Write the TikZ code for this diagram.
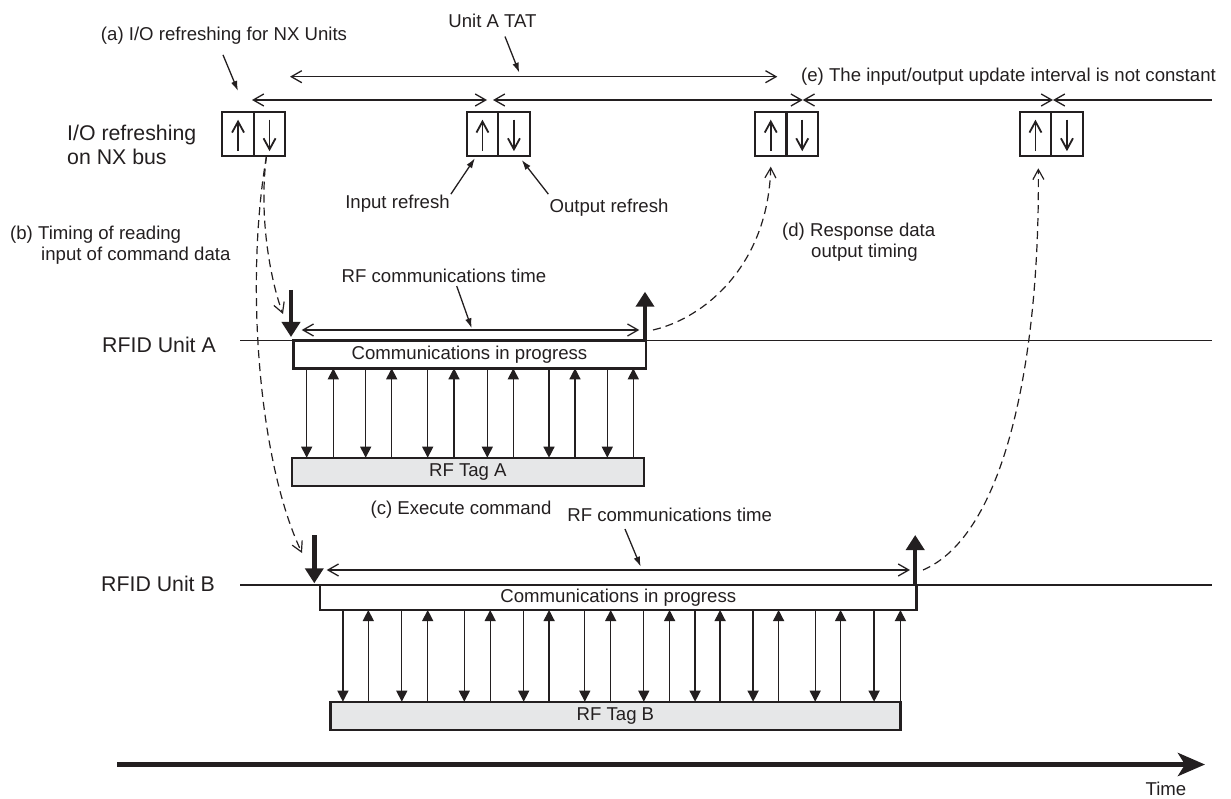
\documentclass[tikz,border=0pt]{standalone}
\usepackage{fontspec}
\setmainfont{Liberation Sans}
\usepackage{tikz}
\usetikzlibrary{positioning, arrows.meta, calc}
\usepackage{xcolor}
\definecolor{ink}{HTML}{231F20}
\definecolor{tagfill}{HTML}{E6E7E8}
\newcommand{\notefont}{\fontsize{18.6pt}{21pt}\selectfont}
\newcommand{\lanefont}{\fontsize{21.3pt}{24pt}\selectfont}

\begin{document}
\begin{tikzpicture}[x=1pt, y=-1pt, color=ink, font=\notefont, inner sep=1pt,
  lanename/.style={font=\lanefont, anchor=west, align=left, inner sep=0pt},
  iocell/.style={rectangle, draw, line width=2.3pt, minimum width=31.5pt,
    minimum height=44pt, inner sep=0pt, outer sep=0pt},
  iotick/.style={line width=1.8pt, -{Straight Barb[length=11pt,width=12pt]}},
  commbox/.style={rectangle, draw, line width=2.4pt, fill=white,
    inner sep=0pt, outer sep=0pt},
  tagbox/.style={commbox, fill=tagfill},
  lane/.style={line width=1.2pt},
  spanarr/.style={line width=1.3pt,
    {Straight Barb[length=10.5pt,width=12pt]}-{Straight Barb[length=10.5pt,width=12pt]}},
  pointer/.style={line width=1.3pt, -{Latex[length=10pt,width=6.5pt]}},
  rfsig/.style={line width=1.3pt, -{Triangle[length=11pt,width=11pt]}},
  trigger/.style={line width=4.5pt, -{Triangle[length=15pt,width=18pt]}},
  cue/.style={line width=1.2pt, dash pattern=on 8pt off 5pt,
    -{Straight Barb[length=10pt,width=11pt]}},
  timeline/.style={line width=5pt, -{Stealth[length=27pt,width=23pt,inset=7pt]}}
]
  \useasboundingbox (0,0) rectangle (1231,799);

  \coordinate (t0) at (252,100);
  \coordinate (t1a) at (487,100);
  \coordinate (t1b) at (493,100);
  \coordinate (t2) at (802.7,100);
  \coordinate (t3) at (1053,100);
  \coordinate (busEnd) at (1212,100);
  \coordinate (tat0) at (290,76.7);
  \coordinate (tat1) at (777.3,76.7);
  \coordinate (laneA0) at (240,340.7);
  \coordinate (laneA1) at (1212,340.7);
  \coordinate (laneB0) at (240,585);
  \coordinate (laneB1) at (1212,585);
  \coordinate (rfA0) at (301.7,330);
  \coordinate (rfA1) at (639.3,330);
  \coordinate (rfB0) at (326.7,570);
  \coordinate (rfB1) at (910,570);
  \coordinate (time0) at (117,764.5);
  \coordinate (time1) at (1205,764.5);

  \draw[lane] (laneA0) -- (laneA1);
  \draw[lane] (laneB0) -- (laneB1);
  \draw[spanarr] (tat0) -- (tat1);
  \draw[spanarr] (t0) -- (t1a);
  \draw[spanarr] (t1b) -- (t2);
  \draw[spanarr] (t2) -- (t3);
  \draw[lane, line width=1.3pt, {Straight Barb[length=10.5pt,width=12pt]}-] (t3) -- (busEnd);
  \draw[spanarr] (rfA0) -- (rfA1);
  \draw[spanarr] (rfB0) -- (rfB1);

  \node[lanename] (laneBus) at (67,145) {I/O refreshing\\on NX bus};
  \node[lanename] (laneA) at (102,345) {RFID Unit A};
  \node[lanename] (laneB) at (101,584) {RFID Unit B};

  \foreach \bx/\cx in {1/238.05, 2/482.45, 3/770.75, 4/1035.45} {
    \node[iocell] (io\bx i) at (\cx,133.7) {};
    \node[iocell, right=0pt of io\bx i] (io\bx o) {};
    \draw[iotick] ([yshift=4.5pt]io\bx i.south) -- ([yshift=-8pt]io\bx i.north);
    \draw[iotick] ([yshift=-8pt]io\bx o.north) -- ([yshift=4.5pt]io\bx o.south);
  }

  \node[commbox, minimum width=352.4pt, minimum height=27.6pt] (commA) at (469.5,354.5)
    {Communications in progress};
  \node[tagbox, minimum width=352.3pt, minimum height=28.3pt] (tagA) at (467.85,471.85)
    {RF Tag A};
  \node[commbox, minimum width=596.4pt, minimum height=25pt] (commB) at (618.3,597.5)
    {Communications in progress};
  \node[tagbox, minimum width=570pt, minimum height=28.3pt] (tagB) at (615.4,715.85)
    {RF Tag B};

  \foreach \x in {306.7,365.7,427.7,487.3,549,607.3}
    \draw[rfsig] (commA.south -| \x,0) -- (tagA.north -| \x,0);
  \foreach \x in {333.3,391.7,454,513.3,575,633.3}
    \draw[rfsig] (tagA.north -| \x,0) -- (commA.south -| \x,0);
  \foreach \x in {342.9,401.8,464.3,523.7,584.8,643.8,695.1,753.1,815.2,874.1}
    \draw[rfsig] (commB.south -| \x,0) -- (tagB.north -| \x,0);
  \foreach \x in {368.3,427.7,490.2,549.1,610.7,669.6,720.1,778.6,840.6,900.4}
    \draw[rfsig] (tagB.north -| \x,0) -- (commB.south -| \x,0);

  \node (noteIO) at (224,36) {(a) I/O refreshing for NX Units};
  \node (noteTAT) at (492.5,20.5) {Unit A TAT};
  \node[anchor=west] (noteE) at (800,77) {(e) The input/output update interval is not constant};
  \node (noteIn) at (397.5,204) {Input refresh};
  \node (noteOut) at (609,208) {Output refresh};
  \node[anchor=west, align=left] (noteB) at (9,245)
    {(b) Timing of reading\\\hspace*{31pt}input of command data};
  \node[anchor=west, align=left] (noteD) at (781,242.4)
    {(d) Response data\\\hspace*{29pt}output timing};
  \node (noteRfA) at (444,276) {RF communications time};
  \node (noteC) at (461,510) {(c) Execute command};
  \node (noteRfB) at (669.7,515) {RF communications time};
  \node[inner sep=0pt] (timeLbl) at (1166,789) {Time};

  \coordinate (ioAim) at (238,91);
  \coordinate (tatAim) at (519.3,72.7);
  \coordinate (rfAaim) at (471.7,328.3);
  \coordinate (rfBaim) at (640.7,566.7);
  \draw[pointer] ([xshift=-1pt,yshift=-9pt]noteIO.south) -- (ioAim);
  \draw[pointer] ([xshift=12.5pt,yshift=-8pt]noteTAT.south) -- (tatAim);
  \draw[pointer] (noteIn.north east) -- ([xshift=-7.5pt,yshift=-2.5pt]io2i.south);
  \draw[pointer] ([yshift=4pt]noteOut.north west) -- ([xshift=7.75pt,yshift=-4.3pt]io2o.south);
  \draw[pointer] ([xshift=12.7pt,yshift=-2pt]noteRfA.south) -- (rfAaim);
  \draw[pointer] ([xshift=-44.7pt,yshift=-6pt]noteRfB.south) -- (rfBaim);

  \coordinate (cmdA) at (291,290);
  \coordinate (respA) at (645,291.7);
  \coordinate (cmdB) at (314.3,535);
  \coordinate (respB) at (915.2,535);
  \draw[trigger] (cmdA) -- ([xshift=-2.3pt,yshift=3.7pt]commA.north west);
  \draw[trigger] ([xshift=-0.7pt]commA.north east) -- (respA);
  \draw[trigger] (cmdB) -- ([xshift=-5.8pt,yshift=1.7pt]commB.north west);
  \draw[trigger] ([xshift=-1.3pt]commB.north east) -- (respB);

  \coordinate (readA) at (283,314);
  \coordinate (readB) at (302,553);
  \coordinate (outA) at (653,330);
  \coordinate (outB) at (923,570);
  \draw[cue] ([xshift=-3pt]io1o.south) .. controls (258,220) and (272,285) .. (readA);
  \draw[cue] ([xshift=-3pt]io1o.south) .. controls (245,280) and (258,460) .. (readB);
  \draw[cue] (outA) .. controls (705,318) and (768,265) .. ([yshift=-11pt]io3i.south);
  \draw[cue] (outB) .. controls (1005,535) and (1040,360) .. ([xshift=2.85pt,yshift=-12.6pt]io4i.south);

  \draw[timeline] (time0) -- (time1);
\end{tikzpicture}
\end{document}
